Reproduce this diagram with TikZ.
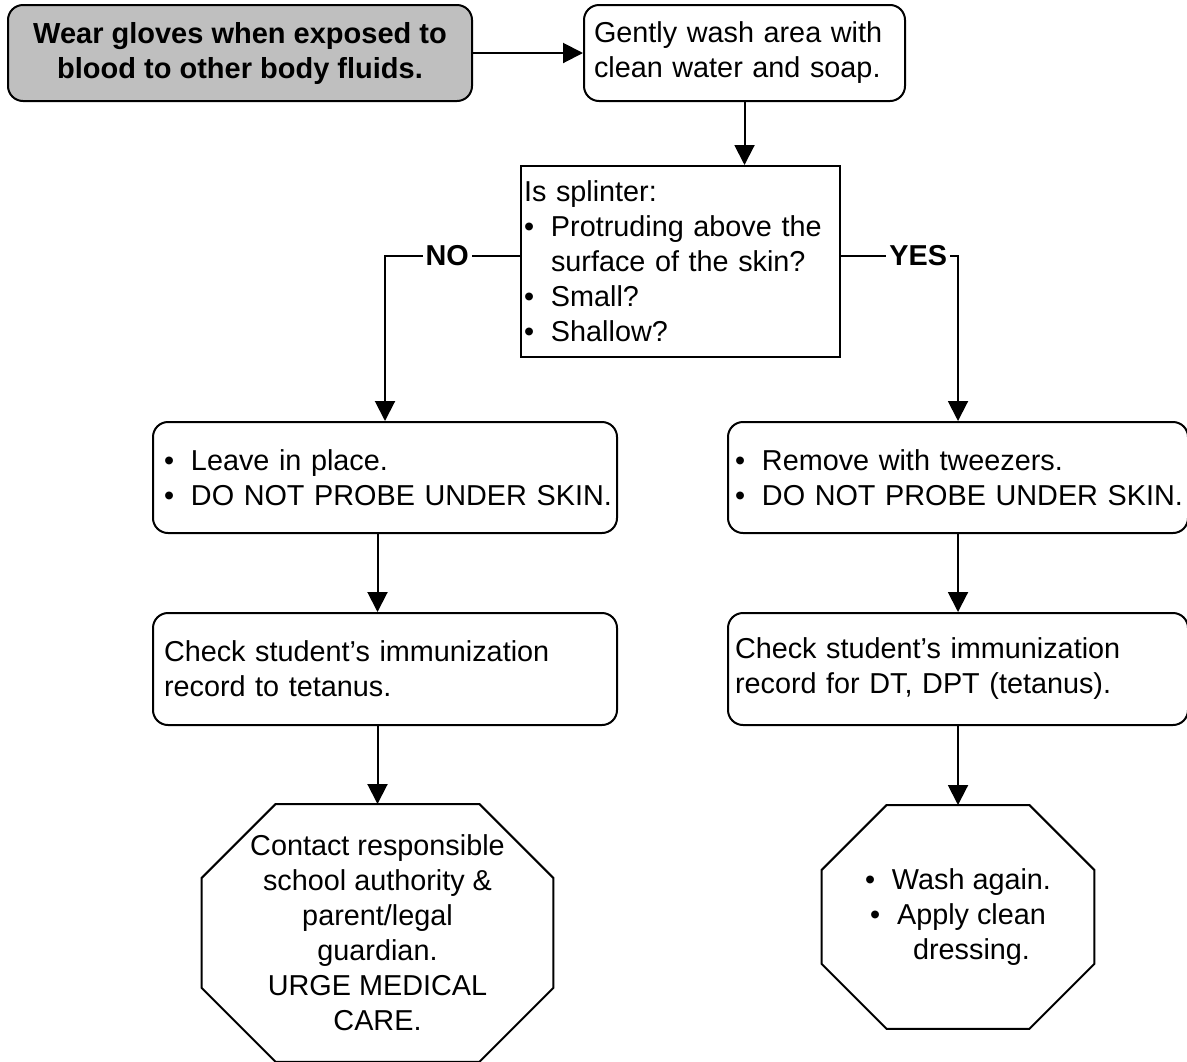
\documentclass[tikz,border=0pt]{standalone}
\usepackage{fontspec}
\setmainfont{Liberation Sans}
\usetikzlibrary{arrows.meta,positioning,calc}

\newcommand{\bul}[1]{\makebox[13.5pt][l]{•}\mbox{#1}}

\begin{document}
\begin{tikzpicture}[x=0.5pt,y=-0.5pt,
    every node/.style={font=\fontsize{14.4pt}{17.5pt}\selectfont},
    rbox/.style={rectangle, rounded corners=7.5pt, draw, line width=1pt, align=left},
    qbox/.style={rectangle, draw, line width=1pt, align=left},
    stopsign/.style={rectangle, inner sep=0pt, align=center},
    flow/.style={-{Triangle[length=10pt,width=10pt]}, line width=1pt},
    answer/.style={font=\fontsize{14.4pt}{17.5pt}\selectfont\bfseries, fill=white, inner sep=1.5pt}]
    \useasboundingbox (0,0) rectangle (1187,1061);

    \node(gloves) [rbox, fill=gray!50, minimum width=232pt, minimum height=48pt, align=center, font=\fontsize{14.5pt}{17.5pt}\selectfont\bfseries] at (240,53) {Wear gloves when exposed to\\blood to other body fluids.};
    \node(wash) [rbox, text width=150.5pt, inner xsep=5pt, minimum height=48pt, right=55pt of gloves] {Gently wash area with\\clean water and soap.};
    \node(splinter) [qbox, text width=156.5pt, inner xsep=1.5pt, inner ysep=3pt, minimum height=95.5pt, below=31.5pt of wash, xshift=-32pt] {Is splinter:\\ \bul{Protruding above the}\\ \hspace*{13.5pt}surface of the skin?\\ \bul{Small?}\\ \bul{Shallow?}};

    \node(leave) [rbox, text width=221pt, inner xsep=5.5pt, minimum height=55.5pt, below=31.5pt of splinter, xshift=-147.75pt] {\bul{Leave in place.}\\ \bul{DO NOT PROBE UNDER SKIN.}};
    \node(remove) [rbox, text width=223pt, inner xsep=3.5pt, minimum height=55.5pt, below=31.5pt of splinter, xshift=138.75pt] {\bul{Remove with tweezers.}\\ \bul{DO NOT PROBE UNDER SKIN.}};

    \node(checkl) [rbox, text width=221pt, inner xsep=5.5pt, minimum height=56pt, below=39pt of leave] {Check student’s immunization\\record to tetanus.};
    \node(checkr) [rbox, text width=223pt, inner xsep=3.5pt, minimum height=56pt, below=39pt of remove] {Check student’s immunization\\record for DT, DPT (tetanus).};

    \node(stopl) [stopsign, minimum width=175.5pt, minimum height=128.5pt, below=39pt of checkl, xshift=-3.75pt] {Contact responsible\\school authority \&\\parent/legal\\guardian.\\URGE MEDICAL\\CARE.};
    \node(stopr) [stopsign, minimum width=136pt, minimum height=111.5pt, below=39.5pt of checkr] {\bul{Wash again.}\\ \bul{Apply clean}\\ \hspace*{13.5pt}dressing.};

    % octagon outlines round the two last steps
    \foreach \n/\c in {stopl/37pt, stopr/32.5pt} {
      \draw[line width=1pt] ([xshift=\c]\n.north west) -- ([xshift=-\c]\n.north east) -- ([yshift=-\c]\n.north east) -- ([yshift=\c]\n.south east) -- ([xshift=-\c]\n.south east) -- ([xshift=\c]\n.south west) -- ([yshift=\c]\n.south west) -- ([yshift=-\c]\n.north west) -- cycle;
    }

    \draw[flow] (gloves) -- (wash);
    \draw[flow] (wash.south) -- (wash.south |- splinter.north);
    \draw[flow] ([yshift=3pt]splinter.west) -| node[answer, pos=0.27]{NO} (leave.north);
    \draw[flow] ([yshift=3pt]splinter.east) -| node[answer, pos=0.33]{YES} (remove.north);
    \draw[flow] (leave.south -| stopl.north) -- (checkl.north -| stopl.north);
    \draw[flow] (checkl.south -| stopl.north) -- (stopl.north);
    \draw[flow] (remove) -- (checkr);
    \draw[flow] (checkr) -- (stopr);
  \end{tikzpicture}
\end{document}
